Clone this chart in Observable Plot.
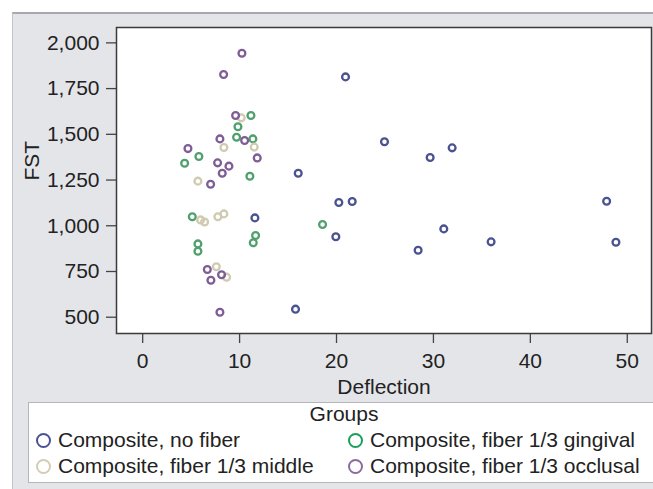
<!DOCTYPE html>
<html><head><meta charset="utf-8">
<script src="https://cdn.jsdelivr.net/npm/d3@7"></script>
<script src="https://cdn.jsdelivr.net/npm/@observablehq/plot@0.6"></script>
<style>
html,body{margin:0;padding:0;background:#fff;width:653px;height:489px;overflow:hidden;font-family:"Liberation Sans",Arial,sans-serif;}
#panel{position:absolute;left:12px;top:12px;width:660px;height:490px;background:#e4e5e9;border-top:2px solid #a9a9ad;border-left:1px solid #c4c5c9;}
#chart{position:absolute;left:0;top:0;}
#legend{position:absolute;left:28px;top:402px;width:632px;height:81px;background:#fff;border:1px solid #b5b6ba;box-sizing:border-box;color:#222;font-size:21px;}
.lt{position:absolute;height:26px;line-height:26px;white-space:nowrap;}
.mk{position:absolute;width:15px;height:15px;border-radius:50%;box-sizing:border-box;border:2px solid;}
</style>
</head><body>
<div id="panel"></div>
<div id="chart"></div>
<div id="legend"></div>
<script>
const groups = ["Composite, no fiber", "Composite, fiber 1/3 gingival", "Composite, fiber 1/3 middle", "Composite, fiber 1/3 occlusal"];
const colors = ["#4a5290", "#4fa06c", "#cfcab0", "#7e5c96"];
const legendColors = ["#4a5290", "#18a058", "#d2cdb4", "#8a6c9e"];

const noFiberX = [16.05, 11.58, 15.77, 20.93, 24.95, 31.93, 29.66, 20.24, 21.62, 19.93, 31.07, 28.42, 35.95, 47.87, 48.83];
const noFiberY = [1287, 1043, 544, 1814, 1459, 1426, 1373, 1127, 1133, 940, 983, 866, 912, 1134, 910];

const gingivalX = [11.17, 9.83, 9.69, 11.37, 5.80, 4.33, 11.06, 5.12, 11.65, 11.41, 5.70, 5.70, 18.56];
const gingivalY = [1603, 1541, 1484, 1475, 1379, 1342, 1271, 1049, 947, 907, 901, 861, 1007];

const middleX = [10.17, 8.38, 11.51, 5.70, 5.98, 6.39, 7.76, 8.38, 7.60, 8.66];
const middleY = [1590, 1428, 1430, 1244, 1032, 1021, 1049, 1065, 776, 719];

const occlusalX = [10.24, 8.35, 9.59, 7.97, 10.52, 4.67, 11.82, 7.73, 8.90, 8.21, 7.01, 6.67, 8.14, 7.04, 7.97];
const occlusalY = [1943, 1827, 1603, 1475, 1466, 1422, 1371, 1344, 1326, 1287, 1227, 761, 732, 702, 527];

const xTicks = [0, 10, 20, 30, 40, 50];
const yTicks = [500, 750, 1000, 1250, 1500, 1750, 2000];
const xLabel = "Deflection";
const yLabel = "FST";
const legendTitle = "Groups";

const seriesX = [noFiberX, gingivalX, middleX, occlusalX];
const seriesY = [noFiberY, gingivalY, middleY, occlusalY];
const data = [];
groups.forEach((g, i) => seriesX[i].forEach((x, j) => data.push({group: g, x, y: seriesY[i][j]})));

const font = "'Liberation Sans', Arial, sans-serif";
const plot = Plot.plot({
  width: 653,
  height: 402,
  marginLeft: 116,
  marginRight: 2,
  marginTop: 27,
  marginBottom: 69,
  style: {fontFamily: font, fontSize: "21px", color: "#222", background: "transparent", overflow: "visible"},
  x: {domain: [-2.7, 52.5]},
  y: {domain: [411, 2084]},
  color: {domain: groups, range: colors},
  marks: [
    Plot.frame({fill: "white", stroke: "none"}),
    Plot.axisX({ticks: xTicks, tickSize: 10, tickPadding: 10, fontSize: 21, label: null, stroke: "#444", strokeWidth: 1.3}),
    Plot.axisY({ticks: yTicks, tickSize: 10, tickPadding: 7, fontSize: 21, label: null, tickFormat: d3.format(","), stroke: "#444", strokeWidth: 1.3}),
    Plot.dot(data, {x: "x", y: "y", stroke: "group", r: 3.4, strokeWidth: 2.3}),
    Plot.frame({stroke: "#3a3a3a", strokeWidth: 1.5}),
    Plot.text([xLabel], {frameAnchor: "bottom", dy: 54, fontSize: 21, fill: "#222", lineAnchor: "middle"}),
    Plot.text([yLabel], {frameAnchor: "left", dx: -84, rotate: -90, fontSize: 21, fill: "#222", lineAnchor: "middle"})
  ]
});
document.getElementById("chart").appendChild(plot);

const lg = document.getElementById("legend");
const title = document.createElement("div");
title.className = "lt";
title.style.left = "0"; title.style.width = "100%"; title.style.textAlign = "center"; title.style.top = "-2px";
title.textContent = legendTitle;
lg.appendChild(title);
const pos = [[15, 38], [327, 38], [15, 64], [327, 64]];
const order = [0, 1, 2, 3];
order.forEach((gi, k) => {
  const [cx, cy] = pos[k];
  const m = document.createElement("div");
  m.className = "mk";
  m.style.borderColor = legendColors[gi];
  m.style.left = (cx - 7.5 - 1) + "px";
  m.style.top = (cy - 7.5 - 1) + "px";
  lg.appendChild(m);
  const t = document.createElement("div");
  t.className = "lt";
  t.style.left = (cx + 15 - 1) + "px";
  t.style.top = (cy - 13 - 1) + "px";
  t.textContent = groups[gi];
  lg.appendChild(t);
});
</script>
</body></html>
